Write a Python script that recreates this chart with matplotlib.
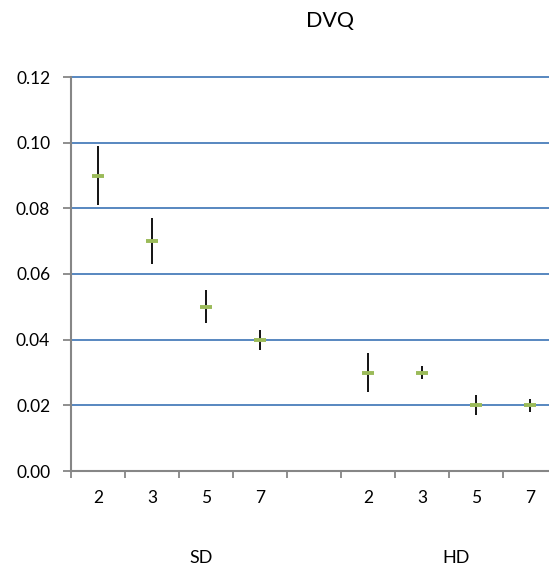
import matplotlib.pyplot as plt

groups = ["SD", "HD"]
levels = ["2", "3", "5", "7"]
sd_mean = [0.090, 0.070, 0.050, 0.040]
sd_low = [0.081, 0.063, 0.045, 0.037]
sd_high = [0.099, 0.077, 0.055, 0.043]
hd_mean = [0.030, 0.030, 0.020, 0.020]
hd_low = [0.024, 0.028, 0.017, 0.018]
hd_high = [0.036, 0.032, 0.023, 0.022]

plt.rcParams['font.family'] = ['Lato', 'DejaVu Sans']

fig = plt.figure(figsize=(5.49, 5.70), dpi=100)
W, H = 549, 570
# plot area (in pixels), right edge runs past the image like the original
ax = fig.add_axes([71 / W, 1 - 471 / H, 486 / W, (471 - 77) / H])

# SD in slots 0-3, empty slot 4, HD in slots 5-8
xs_sd = list(range(len(levels)))
xs_hd = [i + len(levels) + 1 for i in range(len(levels))]
means = sd_mean + hd_mean
lows = sd_low + hd_low
highs = sd_high + hd_high
xs = xs_sd + xs_hd

for y in [0.02, 0.04, 0.06, 0.08, 0.10, 0.12]:
    ax.axhline(y, color='#4a7ebb', lw=1.3, zorder=1, clip_on=False)

ax.vlines(xs, lows, highs, color='black', lw=1.3, zorder=2)
ax.plot(xs, means, ls='none', marker='_', ms=9, mew=2.8, color='#9bbb59', zorder=3)

ax.set_xlim(-0.5, 8.5)
ax.set_ylim(0, 0.12)
ax.set_yticks([0.0, 0.02, 0.04, 0.06, 0.08, 0.10, 0.12])
ax.set_yticklabels(['%.2f' % v for v in ax.get_yticks()], fontsize=12.5)

# tick marks at category boundaries, labels in the middle
ax.set_xticks([i - 0.5 for i in range(10)])
ax.set_xticklabels([])
ax.set_xticks(xs, minor=True)
ax.set_xticklabels(levels + levels, minor=True, fontsize=12.5)
ax.tick_params(axis='x', which='minor', length=0, pad=14)
ax.tick_params(axis='x', which='major', length=5, width=1.3, color='#868686', direction='out')
ax.tick_params(axis='y', length=6, width=1.3, color='#868686', pad=9)

for s in ['top', 'right']:
    ax.spines[s].set_visible(False)
for s in ['left', 'bottom']:
    ax.spines[s].set_color('#868686')
    ax.spines[s].set_linewidth(1.5)

fig.text(201 / W, 1 - 558 / H, groups[0], ha='center', va='center', fontsize=13)
fig.text(456 / W, 1 - 558 / H, groups[1], ha='center', va='center', fontsize=13)
fig.text(330 / W, 1 - 21 / H, "DVQ", ha='center', va='center', fontsize=15.5)

fig.savefig('out.png', dpi=100)
